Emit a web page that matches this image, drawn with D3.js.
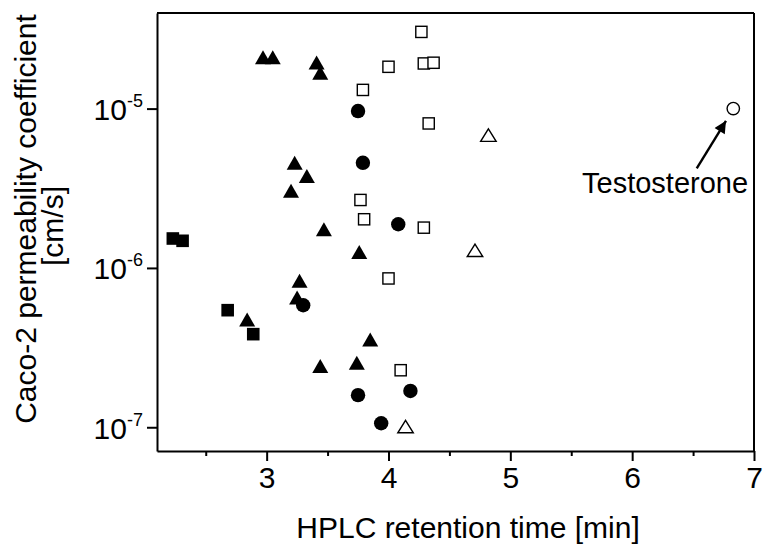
<!DOCTYPE html>
<html>
<head>
<meta charset="utf-8">
<script src="https://cdn.jsdelivr.net/npm/d3@7"></script>
<style>
  body { margin: 0; background: #fff; }
  svg { display: block; }
</style>
</head>
<body>
<svg id="chart" width="763" height="546"></svg>
<script>
// ---- data (HPLC retention time [min], Caco-2 permeability [cm/s]) ----
const filledSquareX = [2.23, 2.31, 2.68, 2.89];
const filledSquareY = [1.53e-6, 1.48e-6, 5.43e-7, 3.84e-7];

const filledTriangleX = [2.97, 3.05, 3.41, 3.44, 3.23, 3.33, 3.20, 3.47, 3.76, 3.27, 3.25, 2.84, 3.85, 3.44, 3.74];
const filledTriangleY = [2.10e-5, 2.10e-5, 1.95e-5, 1.68e-5, 4.57e-6, 3.77e-6, 3.05e-6, 1.75e-6, 1.26e-6, 8.3e-7, 6.53e-7, 4.75e-7, 3.56e-7, 2.42e-7, 2.54e-7];

const filledCircleX = [3.75, 3.79, 4.08, 3.30, 3.75, 4.18, 3.94];
const filledCircleY = [9.65e-6, 4.57e-6, 1.88e-6, 5.83e-7, 1.59e-7, 1.69e-7, 1.06e-7];

const openSquareX = [4.27, 4.00, 4.29, 4.37, 3.79, 4.33, 3.77, 3.80, 4.29, 4.00, 4.10];
const openSquareY = [3.03e-5, 1.83e-5, 1.92e-5, 1.94e-5, 1.31e-5, 8.07e-6, 2.67e-6, 2.02e-6, 1.79e-6, 8.59e-7, 2.28e-7];

const openTriangleX = [4.82, 4.71, 4.14];
const openTriangleY = [6.82e-6, 1.29e-6, 1.01e-7];

const openCircleX = [6.83];
const openCircleY = [1.0e-5];

// annotation (data units)
const arrowFrom = [6.53, 4.22e-6];
const arrowTo = [6.77, 8.38e-6];
const labelAt = [6.27, 2.95e-6];
const labelText = "Testosterone";

const xTicks = [3, 4, 5, 6, 7];
const xMinorTicks = [2.5, 3.5, 4.5, 5.5, 6.5];
const yExponents = [-7, -6, -5];

const xTitle = "HPLC retention time [min]";
const yTitle1 = "Caco-2 permeability coefficient";
const yTitle2 = "[cm/s]";

// ---- layout ----
const font = "'Liberation Sans', Arial, Helvetica, sans-serif";
const plot = { left: 157, right: 754, top: 13, bottom: 451 };

const svg = d3.select("#chart").style("font-family", font);

const xScale = d3.scaleLinear()
  .domain([2.1, 7])
  .range([plot.left, plot.right]);

const yScale = d3.scaleLog()
  .domain([Math.pow(10, -7.149), Math.pow(10, -4.40)])
  .range([plot.bottom, plot.top]);

// frame top / right
svg.append("line")
  .attr("x1", plot.left).attr("x2", plot.right)
  .attr("y1", plot.top).attr("y2", plot.top)
  .attr("stroke", "#000").attr("stroke-width", 2);
svg.append("line")
  .attr("x1", plot.right).attr("x2", plot.right)
  .attr("y1", plot.top).attr("y2", plot.bottom)
  .attr("stroke", "#000").attr("stroke-width", 2);

// x minor ticks
svg.append("g")
  .attr("transform", `translate(0,${plot.bottom})`)
  .call(d3.axisBottom(xScale).tickValues(xMinorTicks).tickSize(5).tickSizeOuter(0).tickFormat(""))
  .call(g => g.select(".domain").remove())
  .call(g => g.selectAll("line").attr("stroke", "#000").attr("stroke-width", 2));

// x axis
const xAxisGroup = svg.append("g")
  .attr("transform", `translate(0,${plot.bottom})`)
  .call(d3.axisBottom(xScale).tickValues(xTicks).tickSize(10).tickSizeOuter(0).tickPadding(6).tickFormat(d3.format("d")));

xAxisGroup.select(".domain").attr("stroke", "#000").attr("stroke-width", 2);
xAxisGroup.selectAll("line").attr("stroke", "#000").attr("stroke-width", 2);
xAxisGroup.selectAll("text")
  .attr("fill", "#000")
  .attr("font-size", "30px")
  .attr("font-family", font);

// y axis
const yAxisGroup = svg.append("g")
  .attr("transform", `translate(${plot.left},0)`)
  .call(d3.axisLeft(yScale)
    .tickValues(yExponents.map(e => Math.pow(10, e)))
    .tickSize(10).tickSizeOuter(0).tickPadding(4)
    .tickFormat(""));

yAxisGroup.select(".domain").attr("stroke", "#000").attr("stroke-width", 2);
yAxisGroup.selectAll("line").attr("stroke", "#000").attr("stroke-width", 2);

yAxisGroup.selectAll(".tick text")
  .attr("fill", "#000")
  .attr("font-size", "30px")
  .attr("font-family", font)
  .attr("dy", "0.36em")
  .each(function (d) {
    const t = d3.select(this);
    t.text(null);
    t.append("tspan").text("10");
    t.append("tspan")
      .attr("font-size", "18px")
      .attr("dy", "-0.72em")
      .text(String(Math.round(Math.log10(d))));
  });

// axis titles
svg.append("text")
  .attr("x", 468)
  .attr("y", 538)
  .attr("text-anchor", "middle")
  .attr("font-size", "30px")
  .attr("fill", "#000")
  .text(xTitle);

svg.append("text")
  .attr("transform", "translate(36,219) rotate(-90)")
  .attr("text-anchor", "middle")
  .attr("font-size", "30px")
  .attr("fill", "#000")
  .text(yTitle1);

svg.append("text")
  .attr("transform", "translate(63,226) rotate(-90)")
  .attr("text-anchor", "middle")
  .attr("font-size", "30px")
  .attr("fill", "#000")
  .text(yTitle2);

// ---- markers ----
function zip(xs, ys) { return xs.map((x, i) => ({ x: x, y: ys[i] })); }

function triPath(w, h) {
  return `M0,${-h / 2}L${w / 2},${h / 2}L${-w / 2},${h / 2}Z`;
}

const marks = svg.append("g");

marks.selectAll(".fsq")
  .data(zip(filledSquareX, filledSquareY))
  .enter().append("rect")
  .attr("x", d => xScale(d.x) - 6.3)
  .attr("y", d => yScale(d.y) - 6.3)
  .attr("width", 12.6).attr("height", 12.6)
  .attr("fill", "#000");

marks.selectAll(".osq")
  .data(zip(openSquareX, openSquareY))
  .enter().append("rect")
  .attr("x", d => xScale(d.x) - 5.6)
  .attr("y", d => yScale(d.y) - 5.6)
  .attr("width", 11.2).attr("height", 11.2)
  .attr("fill", "#fff")
  .attr("stroke", "#000").attr("stroke-width", 1.4);

marks.selectAll(".ftri")
  .data(zip(filledTriangleX, filledTriangleY))
  .enter().append("path")
  .attr("d", triPath(16, 14))
  .attr("transform", d => `translate(${xScale(d.x)},${yScale(d.y)})`)
  .attr("fill", "#000");

marks.selectAll(".otri")
  .data(zip(openTriangleX, openTriangleY))
  .enter().append("path")
  .attr("d", triPath(15.5, 12.5))
  .attr("transform", d => `translate(${xScale(d.x)},${yScale(d.y)})`)
  .attr("fill", "#fff")
  .attr("stroke", "#000").attr("stroke-width", 1.4);

marks.selectAll(".fcir")
  .data(zip(filledCircleX, filledCircleY))
  .enter().append("circle")
  .attr("cx", d => xScale(d.x))
  .attr("cy", d => yScale(d.y))
  .attr("r", 7.2)
  .attr("fill", "#000");

marks.selectAll(".ocir")
  .data(zip(openCircleX, openCircleY))
  .enter().append("circle")
  .attr("cx", d => xScale(d.x))
  .attr("cy", d => yScale(d.y))
  .attr("r", 6.2)
  .attr("fill", "#fff")
  .attr("stroke", "#000").attr("stroke-width", 1.4);

// ---- annotation arrow ----
svg.append("defs").append("marker")
  .attr("id", "head")
  .attr("viewBox", "0 0 10 10")
  .attr("refX", 10).attr("refY", 5)
  .attr("markerWidth", 7).attr("markerHeight", 5)
  .attr("markerUnits", "strokeWidth")
  .attr("orient", "auto")
  .append("path")
  .attr("d", "M0,0L10,5L0,10Z")
  .attr("fill", "#000");

svg.append("line")
  .attr("x1", xScale(arrowFrom[0])).attr("y1", yScale(arrowFrom[1]))
  .attr("x2", xScale(arrowTo[0])).attr("y2", yScale(arrowTo[1]))
  .attr("stroke", "#000").attr("stroke-width", 2.4)
  .attr("marker-end", "url(#head)");

svg.append("text")
  .attr("x", xScale(labelAt[0]))
  .attr("y", yScale(labelAt[1]))
  .attr("text-anchor", "middle")
  .attr("font-size", "29px")
  .attr("fill", "#000")
  .text(labelText);
</script>
</body>
</html>
